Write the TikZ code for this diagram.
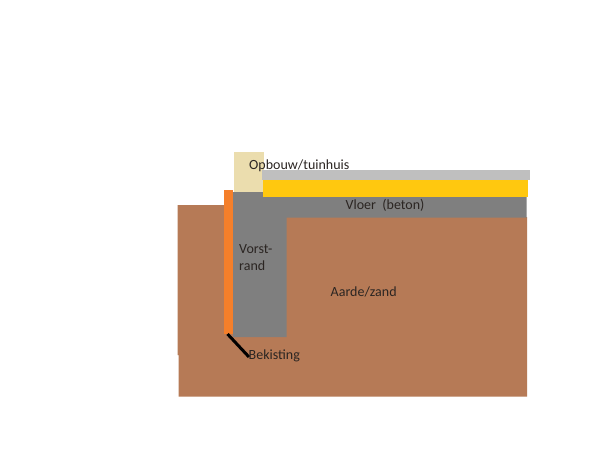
\documentclass[tikz,border=0pt]{standalone}
\usepackage{fontspec}
\setmainfont{Carlito}
\definecolor{aarde}{HTML}{B67A56}
\definecolor{beton}{HTML}{7F7F7F}
\definecolor{geel}{HTML}{FFC80F}
\definecolor{oranje}{HTML}{F57F2A}
\definecolor{creme}{HTML}{EBDDAE}
\definecolor{grijs}{HTML}{BFBFBF}
\definecolor{tekst}{HTML}{2B2522}
\tikzset{
  laag/.style={draw=none},
  label/.style={inner sep=0pt,text=tekst,font=\fontsize{14}{16}\selectfont,anchor=base west},
  bekisting/.style={draw=black,line width=3pt}
}
\begin{document}
\begin{tikzpicture}[x=1pt,y=-1pt]
\useasboundingbox (0,0) rectangle (600,459);
\fill[white] (0,0) rectangle (600,459);
% grond
\fill[laag,aarde] (177.5,205) -- (224,205) -- (224,217) -- (527,217) -- (527,396.5) -- (178.5,396.5) -- (178.5,355) -- (177.5,355) -- cycle;
% beton
\fill[laag,beton] (233,192) -- (263,192) -- (263,196) -- (526.5,196) -- (526.5,217.5) -- (286.5,217.5) -- (286.5,337) -- (233,337) -- cycle;
% opbouw
\fill[laag,creme] (234,152) rectangle (264,192);
\fill[laag,grijs] (262,170) rectangle (530,180);
\fill[laag,geel] (262.7,180) rectangle (527.5,196.7);
% bekisting
\fill[laag,oranje] (224,190) rectangle (233,334);
\coordinate (b1) at (227.5,334);
\coordinate (b2) at (249,357);
\draw[bekisting] (b1) -- (b2);
\node[label] (opbouw) at (249,169) {Opbouw/tuinhuis};
\node[label] (vloer) at (345.5,209) {Vloer\ \ (beton)};
\node[label] (vorst1) at (239,253) {Vorst-};
\node[label] (vorst2) at (239,270) {rand};
\node[label] (aarde) at (330.5,296) {Aarde/zand};
\node[label] (bek) at (248.5,359) {Bekisting};
\end{tikzpicture}
\end{document}
